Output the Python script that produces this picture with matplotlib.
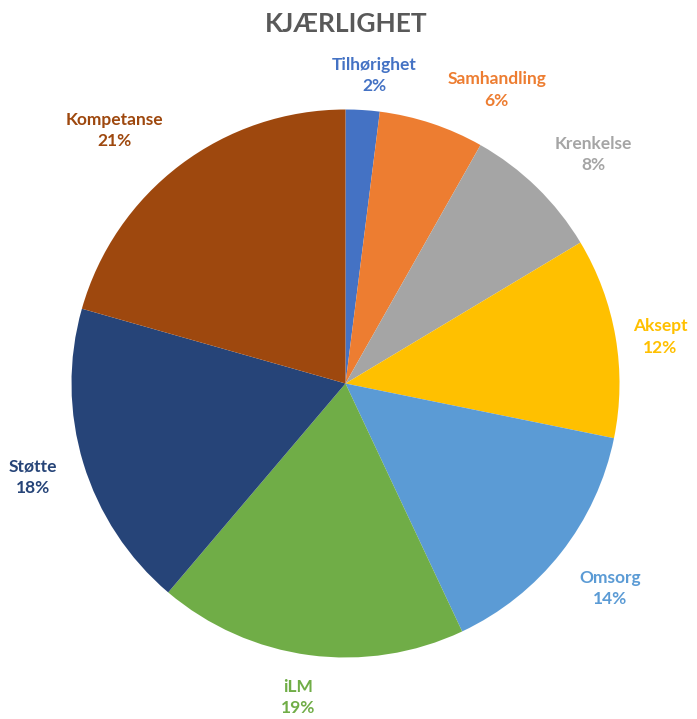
import numpy as np
import matplotlib.pyplot as plt

labels = ['Tilhørighet', 'Samhandling', 'Krenkelse', 'Aksept', 'Omsorg', 'iLM', 'Støtte', 'Kompetanse']
values = [2.0, 6.2, 8.2, 11.8, 14.8, 18.2, 18.2, 20.6]
pct_labels = ['2%', '6%', '8%', '12%', '14%', '19%', '18%', '21%']
colors = ['#4472C4', '#ED7D31', '#A5A5A5', '#FFC000', '#5B9BD5', '#70AD47', '#264478', '#9E480E']
# label placement: distance from centre (radii) and angle shift (deg)
label_dist = [1.13, 1.205, 1.23, 1.16, 1.22, 1.16, 1.19, 1.25]
label_shift = [-1.7, -8.9, -3.0, -1.3, 0.4, -1.0, -0.2, 5.3]

plt.rcParams['font.family'] = ['Lato', 'DejaVu Sans']

fig = plt.figure(figsize=(6.97, 7.19), dpi=100)
ax = fig.add_axes([71.5/697, 61.5/719, 548/697, 548/719])

wedges, _ = ax.pie(values, colors=colors, startangle=90, counterclock=False)

for w, lab, p, c, d, s in zip(wedges, labels, pct_labels, colors, label_dist, label_shift):
    ang = np.deg2rad((w.theta1 + w.theta2) / 2 + s)
    x, y = d * np.cos(ang), d * np.sin(ang)
    ax.text(x, y, f'{lab}\n{p}', ha='center', va='center', color=c,
            fontsize=12.5, fontweight='bold', linespacing=1.4)

ax.set_xlim(-1, 1)
ax.set_ylim(-1, 1)
ax.set_aspect('equal')
ax.axis('off')

fig.text(0.497, 1 - 24/719, 'KJÆRLIGHET', ha='center', va='center',
         fontsize=19, fontweight='bold', color='#595959')

fig.savefig('out.png', dpi=100)
